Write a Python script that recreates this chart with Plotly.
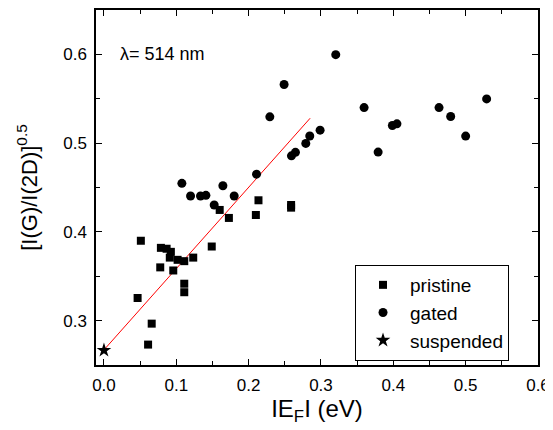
import plotly.graph_objects as go

# pristine (squares)
pristine_x = [0.051, 0.0465, 0.061, 0.066, 0.0787, 0.0866, 0.0778, 0.0925, 0.091, 0.0958,
              0.1018, 0.111, 0.111, 0.111, 0.1234, 0.149, 0.160, 0.1727, 0.210, 0.2136,
              0.2587, 0.2587]
pristine_y = [0.390, 0.3255, 0.273, 0.2966, 0.382, 0.381, 0.360, 0.3775, 0.371, 0.3565,
              0.3685, 0.367, 0.3416, 0.332, 0.371, 0.3835, 0.4247, 0.4157, 0.419, 0.4356,
              0.4303, 0.4273]

# gated (circles)
gated_x = [0.1077, 0.1197, 0.1335, 0.1409, 0.1644, 0.180, 0.1524, 0.2109, 0.2293, 0.249,
           0.2592, 0.2647, 0.279, 0.2845, 0.2988, 0.3204, 0.3596, 0.379, 0.3987, 0.405,
           0.4632, 0.4793, 0.500, 0.529]
gated_y = [0.4547, 0.4404, 0.4404, 0.4412, 0.452, 0.4404, 0.4303, 0.465, 0.5296, 0.566,
           0.4857, 0.4896, 0.4997, 0.508, 0.5146, 0.5997, 0.540, 0.4899, 0.5199, 0.5217,
           0.540, 0.530, 0.5079, 0.5498]

# suspended (star)
suspended_x = [0.0]
suspended_y = [0.2666]

# linear fit
fit_intercept = 0.267
fit_slope = 0.916
fit_x = [0.0, 0.285]
fit_y = [fit_intercept + fit_slope * v for v in fit_x]

FONT = "Liberation Sans, Arial, sans-serif"

fig = go.Figure()
fig.add_trace(go.Scatter(x=fit_x, y=fit_y, mode="lines",
                         line=dict(color="red", width=1), showlegend=False))
fig.add_trace(go.Scatter(x=pristine_x, y=pristine_y, mode="markers", name="pristine",
                         marker=dict(symbol="square", size=8, color="black")))
fig.add_trace(go.Scatter(x=gated_x, y=gated_y, mode="markers", name="gated",
                         marker=dict(symbol="circle", size=9, color="black")))
fig.add_trace(go.Scatter(x=suspended_x, y=suspended_y, mode="markers", name="suspended",
                         marker=dict(symbol="star", size=11, color="black")))

axis_common = dict(showline=True, linecolor="black", linewidth=1.5, mirror="ticks",
                   ticks="inside", ticklen=6, tickwidth=1, tickcolor="black",
                   showgrid=False, zeroline=False, dtick=0.1, tickformat=".1f",
                   ticklabelstandoff=4,
                   tickfont=dict(family=FONT, size=17, color="black"),
                   minor=dict(dtick=0.05, ticks="inside", ticklen=4, tickcolor="black",
                              showgrid=False))

fig.update_xaxes(range=[-0.011, 0.6], tick0=0,
                 title=dict(text="IE<sub>F</sub>I (eV)", font=dict(family=FONT, size=24, color="black"),
                            standoff=2),
                 **axis_common)
fig.update_yaxes(range=[0.25, 0.65], tick0=0,
                 title=dict(text="[I(G)/I(2D)]<sup>0.5</sup>", font=dict(family=FONT, size=22, color="black"),
                            standoff=20),
                 **axis_common)

fig.add_annotation(text="λ= 514 nm", xref="paper", yref="paper", x=0.0498, y=0.877,
                   xanchor="left", yanchor="middle", showarrow=False,
                   font=dict(family=FONT, size=18, color="black"))

fig.update_layout(
    width=545, height=422,
    margin=dict(l=88, r=15, t=2, b=65, autoexpand=False),
    paper_bgcolor="white", plot_bgcolor="white",
    legend=dict(x=0.586, y=0.2817, xanchor="left", yanchor="top",
                bordercolor="black", borderwidth=1, bgcolor="white",
                font=dict(family=FONT, size=19, color="black"),
                itemwidth=44, tracegroupgap=0),
)

fig.write_html("out.html")
